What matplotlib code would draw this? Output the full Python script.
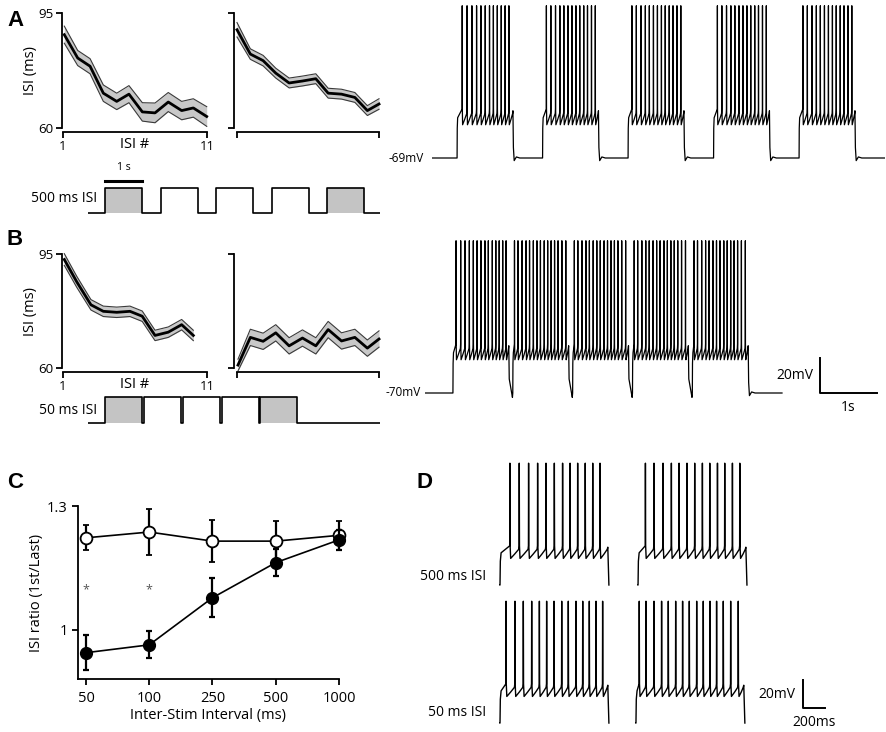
import numpy as np
import matplotlib
matplotlib.use("Agg")
import matplotlib.pyplot as plt

plt.rcParams['font.family'] = ['Open Sans', 'DejaVu Sans']

W, H = 886, 732

# ---- ISI vs ISI number (mean +/- sem), first and fifth stimulus ----
isi_a1_x = [1.09, 2.02, 2.88, 3.80, 4.73, 5.58, 6.51, 7.39, 8.31, 9.24, 10.05, 10.98]
isi_a1 = [88.4, 81.3, 78.8, 70.6, 68.1, 70.3, 64.9, 64.6, 67.9, 65.3, 66.1, 63.5]
isi_a1_sem = [2.6, 2.3, 2.3, 2.5, 2.5, 2.6, 2.8, 3.0, 2.9, 2.8, 2.8, 3.0]

isi_a5_x = [1.0, 1.94, 2.84, 3.73, 4.67, 5.61, 6.55, 7.42, 8.36, 9.30, 10.18, 11.0]
isi_a5 = [89.9, 82.5, 80.5, 76.7, 73.7, 74.3, 75.0, 70.6, 70.3, 69.3, 65.3, 67.3]
isi_a5_sem = [2.2, 1.6, 1.6, 1.5, 1.5, 1.5, 1.5, 1.5, 1.5, 1.5, 1.5, 1.6]

isi_b1_x = [1.09, 1.95, 2.94, 3.80, 4.73, 5.65, 6.50, 7.39, 8.31, 9.24, 10.05]
isi_b1 = [93.3, 86.5, 79.4, 77.4, 77.1, 77.4, 75.9, 70.0, 71.0, 73.3, 70.0]
isi_b1_sem = [1.8, 1.7, 1.6, 1.6, 1.6, 1.6, 1.6, 1.6, 1.6, 1.6, 1.6]

isi_b5_x = [1.07, 1.94, 2.84, 3.73, 4.67, 5.61, 6.55, 7.42, 8.36, 9.30, 10.18, 11.0]
isi_b5 = [60.9, 69.4, 68.2, 70.8, 66.8, 69.2, 66.8, 71.8, 68.3, 69.4, 66.1, 68.9]
isi_b5_sem = [1.8, 2.5, 2.5, 2.5, 2.5, 2.5, 2.5, 2.5, 2.5, 2.5, 2.5, 2.5]

# ---- panel C ----
intervals = ['50', '100', '250', '500', '1000']
ratio_open = [1.223, 1.237, 1.215, 1.215, 1.229]
ratio_open_err = [0.030, 0.055, 0.050, 0.048, 0.035]
ratio_filled = [0.945, 0.964, 1.078, 1.163, 1.218]
ratio_filled_err = [0.042, 0.033, 0.047, 0.032, 0.025]
star_idx = [0, 1]
star_y = 1.098

# ---- stimulus protocols (s) ----
stim_a_on = [0.0, 1.5, 3.0, 4.5, 6.0]
stim_b_on = [0.0, 1.05, 2.1, 3.15, 4.2]
stim_dur = 1.0
stim_shaded = [True, False, False, False, True]

# ---- spike times (ms from pulse onset) ----
spk_500_first = [90, 175, 260, 342, 418, 494, 569, 637, 706, 775, 843, 909]
spk_500_last = [67, 145, 227, 303, 373, 445, 515, 585, 652, 722, 788, 858, 925]
spk_50_first = [55, 136, 212, 288, 358, 424, 491, 561, 621, 691, 752, 812, 873, 933]
spk_50_last = [30, 91, 164, 233, 294, 361, 424, 485, 552, 612, 673, 733, 794, 861, 930]

trace_a_on = [440, 1940, 3440, 4940, 6440]   # ms
trace_b_on = [490, 1540, 2590, 3640, 4690]
pulse_ms = 980
rest_a, rest_b = -69, -70
TROUGH, THR, PEAK = 19, 28, 87


def px_box(x0, y0, x1, y1):
    return [x0 / W, 1 - y1 / H, (x1 - x0) / W, (y1 - y0) / H]


def ftext(x, y, s, **kw):
    fig.text(x / W, 1 - y / H, s, **kw)


def spike_train(on, off, spikes, base):
    pts = [(on, base), (on + 3, base + 17), (on + 10, base + 23)]
    for i, s in enumerate(spikes):
        s = on + s
        nxt = on + spikes[i + 1] if i + 1 < len(spikes) else off
        pts += [(s - 1.5, base + THR), (s, base + PEAK), (s + 2, base + THR),
                (s + 7, base + TROUGH)]
        mid = s + 7 + 0.45 * (nxt - s - 7)
        pts += [(mid, base + TROUGH + 3), (nxt - 5, base + THR - 2.5)]
    pts.append((off, base + THR - 1))
    return pts


def long_trace(onsets, first, rest, base, t_end, gap_ms):
    pts = [(0, base)]
    for k, on in enumerate(onsets):
        off = on + pulse_ms
        pts += spike_train(on, off, first if k == 0 else rest, base)
        if k < len(onsets) - 1 and gap_ms < 100:
            pts += [(off + 8, base + 8), (onsets[k + 1] - 6, base - 2.5)]
        else:
            pts += [(off + 8, base + 6), (off + 22, base - 1.5), (off + 60, base + 0.6),
                    (off + 120, base)]
    pts.append((t_end, base))
    t, v = zip(*pts)
    return np.array(t), np.array(v)


def stim_steps(onsets):
    t = [-0.46]
    v = [0]
    for on in onsets:
        t += [on, on, on + stim_dur, on + stim_dur]
        v += [0, 1, 1, 0]
    t.append(7.43)
    v.append(0)
    return t, v


def isi_panel(box, x, y, sem, labels, left_out):
    ax = fig.add_axes(px_box(*box))
    y = np.array(y)
    sem = np.array(sem)
    ax.fill_between(x, y - sem, y + sem, color='#c8c8c8', lw=0, clip_on=False)
    ax.plot(x, y - sem, color='#3a3a3a', lw=0.8, clip_on=False)
    ax.plot(x, y + sem, color='#3a3a3a', lw=0.8, clip_on=False)
    ax.plot(x, y, color='black', lw=2.0, clip_on=False)
    ax.set_xlim(1, 11)
    ax.set_ylim(60, 95)
    for side in ['top', 'right']:
        ax.spines[side].set_visible(False)
    ax.spines['left'].set_bounds(60, 95)
    ax.spines['bottom'].set_bounds(1, 11)
    ax.spines['bottom'].set_position(('outward', 3))
    ax.spines['left'].set_position(('outward', left_out))
    for side in ['left', 'bottom']:
        ax.spines[side].set_linewidth(1.3)
    ax.set_xticks([1, 11])
    ax.set_yticks([60, 95])
    ax.tick_params(length=4, width=1.3, labelsize=9.5, pad=2)
    if labels:
        ax.set_xticklabels(['1', '11'])
        ax.set_yticklabels(['60', '95'])
        ax.set_ylabel('ISI (ms)', fontsize=10.5)
        ax.yaxis.set_label_coords(-0.175, 0.5)
        ax.set_xlabel('ISI #', fontsize=10.5, labelpad=-12)
    else:
        ax.set_xticklabels([])
        ax.set_yticklabels([])
    ax.patch.set_visible(False)
    return ax


fig = plt.figure(figsize=(W / 100, H / 100), dpi=100)

# ---- A and B : ISI plots ----
isi_panel((63, 13, 207, 128), isi_a1_x, isi_a1, isi_a1_sem, True, 1)
isi_panel((237, 13, 379, 128), isi_a5_x, isi_a5, isi_a5_sem, False, 2)
isi_panel((63, 254, 207, 368), isi_b1_x, isi_b1, isi_b1_sem, True, 1)
isi_panel((237, 254, 379, 368), isi_b5_x, isi_b5, isi_b5_sem, False, 2)

# ---- stimulus diagrams ----
for box, onsets, ylim in [((88, 160, 380, 216), stim_a_on, (-0.12, 2.12)),
                          ((88, 390, 380, 427), stim_b_on, (-0.154, 1.27))]:
    ax = fig.add_axes(px_box(*box))
    t, v = stim_steps(onsets)
    for on, shade in zip(onsets, stim_shaded):
        if shade:
            ax.fill_between([on, on + stim_dur], 0, 1, color='#c4c4c4', lw=0)
    ax.plot(t, v, color='black', lw=1.2)
    ax.set_xlim(-17 / 37, 275 / 37)
    ax.set_ylim(*ylim)
    ax.axis('off')
    if onsets is stim_a_on:
        ax.plot([0, 1], [1.28, 1.28], color='black', lw=2.2)
        ax.text(0.5, 1.8, '1 s', ha='center', va='center', fontsize=7.5)

ftext(97, 199, '500 ms ISI', ha='right', va='center', fontsize=10)
ftext(97, 411, '50 ms ISI', ha='right', va='center', fontsize=10)

# ---- long voltage traces ----
ax = fig.add_axes(px_box(432, 0, 885, 163))
t, v = long_trace(trace_a_on, spk_500_first, spk_500_last, rest_a, 7947, 500)
ax.plot(t, v, color='black', lw=0.9)
ax.set_xlim(0, 453 / 0.057)
ax.set_ylim(rest_a - 5 / 1.75, rest_a + 158 / 1.75)
ax.axis('off')
ftext(424, 158, '-69mV', ha='right', va='center', fontsize=8.5)

ax = fig.add_axes(px_box(425, 230, 885, 415))
t, v = long_trace(trace_b_on, spk_50_first, spk_50_last, rest_b, 357 / 0.057, 50)
ax.plot(t, v, color='black', lw=0.9)
ax.set_xlim(0, 460 / 0.057)
ax.set_ylim(rest_b - 22 / 1.75, rest_b + 163 / 1.75)
ax.axis('off')
sb_t = 395 / 0.057
ax.plot([sb_t, sb_t, sb_t + 1000], [rest_b + 20, rest_b, rest_b], color='black', lw=1.4)
ax.text(sb_t - 120, rest_b + 10, '20mV', ha='right', va='center', fontsize=10)
ax.text(sb_t + 500, rest_b - 8.5, '1s', ha='center', va='center', fontsize=10)
ftext(421, 393, '-70mV', ha='right', va='center', fontsize=8.5)

# ---- C ----
ax = fig.add_axes(px_box(78, 506, 339, 679))
xpos = np.arange(len(intervals))
ax.errorbar(xpos, ratio_open, yerr=ratio_open_err, color='black', lw=1.2, elinewidth=1.6,
            capsize=2, capthick=1.6, marker='o', ms=8.5, mfc='white', mec='black', mew=1.3,
            clip_on=False, zorder=3)
ax.errorbar(xpos, ratio_filled, yerr=ratio_filled_err, color='black', lw=1.2, elinewidth=1.6,
            capsize=2, capthick=1.6, marker='o', ms=8.5, mfc='black', mec='black',
            clip_on=False, zorder=4)
for i in star_idx:
    ax.text(xpos[i], star_y, '*', ha='center', va='center', fontsize=9, color='#555555')
ax.set_xlim(-0.126, 4.0)
ax.set_ylim(1 - 49 / 413, 1.3)
for side in ['top', 'right']:
    ax.spines[side].set_visible(False)
for side in ['left', 'bottom']:
    ax.spines[side].set_linewidth(1.3)
ax.set_xticks(xpos)
ax.set_xticklabels(intervals)
ax.set_yticks([1.0, 1.3])
ax.set_yticklabels(['1', '1.3'])
ax.tick_params(length=4, width=1.3, labelsize=10.5)
ax.tick_params(axis='x', pad=5)
ax.set_xlabel('Inter-Stim Interval (ms)', fontsize=10.5, labelpad=1)
ax.set_ylabel('ISI ratio (1st/Last)', fontsize=10.5)
ax.yaxis.set_label_coords(-34 / 261, 0.5)

# ---- D ----
ax = fig.add_axes(px_box(495, 455, 835, 730))
d_traces = [(spk_500_first, 0, 0), (spk_500_last, 1255, 0),
            (spk_50_first, 0, -98.6), (spk_50_last, 1236, -98.6)]
for spikes, t0, base in d_traces:
    pts = [(t0 - 1, base)] + spike_train(t0, t0 + pulse_ms, spikes, base) + [(t0 + pulse_ms + 10, base)]
    tt, vv = zip(*pts)
    ax.plot(tt, vv, color='black', lw=1.0)
ax.set_xlim(-5 / 0.11, 335 / 0.11)
ax.set_ylim((585 - 730) / 1.4, (585 - 455) / 1.4)
ax.axis('off')
sx = 303 / 0.11
ax.plot([sx, sx, sx + 200], [-67.9, -87.9, -87.9], color='black', lw=1.4)
ax.text(sx - 70, -77.9, '20mV', ha='right', va='center', fontsize=10)
ax.text(sx + 100, -98.5, '200ms', ha='center', va='center', fontsize=10)
ftext(486, 577, '500 ms ISI', ha='right', va='center', fontsize=10)
ftext(486, 712, '50 ms ISI', ha='right', va='center', fontsize=10)

# ---- panel letters ----
for x, y, s in [(15, 20, 'A'), (15, 240, 'B'), (15, 483, 'C'), (424, 483, 'D')]:
    ftext(x, y, s, ha='center', va='center', fontsize=16, fontweight='bold',
          family=['Liberation Sans', 'DejaVu Sans'])

fig.savefig('out.png', dpi=100)
